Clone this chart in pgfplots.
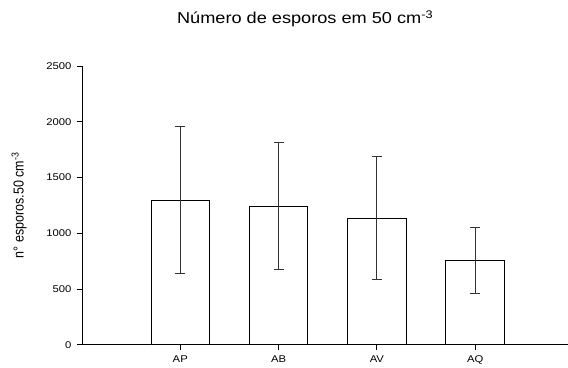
\documentclass[border=0pt]{standalone}
\usepackage{fontspec}
\setmainfont[FakeStretch=1.15]{Liberation Sans}
\newfontfamily\plainsans{Liberation Sans}
\usepackage{pgfplots}
\pgfplotsset{compat=1.18}
\begin{document}
\begin{tikzpicture}
\begin{axis}[
  scale only axis, width=486pt, height=279pt,
  xmin=0, xmax=4.94, ymin=0, ymax=2500,
  axis lines*=left,
  axis line style={black, line width=0.8pt},
  xtick={1,2,3,4}, xticklabels={AP,AB,AV,AQ},
  ytick={0,500,1000,1500,2000,2500},
  tick align=outside, major tick length=5pt,
  tick style={black, line width=0.8pt},
  /pgf/number format/assume math mode=true,
  /pgf/number format/1000 sep={},
  tick label style={font=\fontsize{9.8}{11}\selectfont},
  yticklabel style={xshift=-2pt},
  xticklabel style={yshift=-2.5pt},
  clip=false,
]
\addplot[ybar, bar width=58.7pt, fill=white, draw=black, line width=0.8pt,
  error bars/.cd, y dir=both, y explicit,
  error mark options={rotate=90, black!80, line width=0.8pt, mark size=5pt},
  error bar style={black!80, line width=0.8pt}]
  coordinates {(1,1297) +- (0,658) (2,1243) +- (0,568) (3,1137) +- (0,551) (4,759) +- (0,296)};
\end{axis}
\node[anchor=base west, font=\fontsize{15.8}{18}\selectfont, inner sep=0pt]
  at ([xshift=95pt,yshift=42.7pt]current axis.north west) {Número de esporos em 50 cm\textsuperscript{-3}};
\node[rotate=90, font=\plainsans\fontsize{12.5}{14}\selectfont, inner sep=0pt]
  at ([xshift=-63pt,yshift=139.5pt]current axis.south west) {\scalebox{1}[1.15]{n° esporos.50 cm\textsuperscript{-3}}};
\path ([xshift=-82pt,yshift=-21pt]current axis.south west) rectangle ++(568pt,366pt);
\end{tikzpicture}
\end{document}
